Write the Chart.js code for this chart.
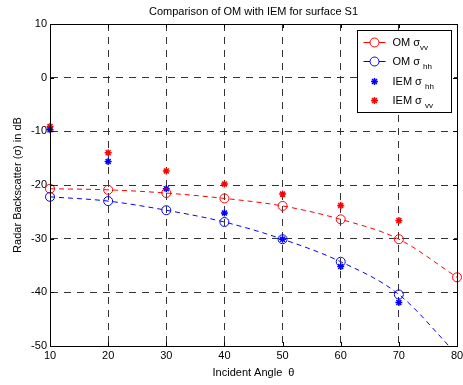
<!DOCTYPE html>
<html><head><meta charset="utf-8">
<script src="https://cdn.jsdelivr.net/npm/chart.js@4/dist/chart.umd.min.js"></script>
<style>html,body{margin:0;padding:0;background:#fff}</style>
</head><body>
<canvas id="c" width="463" height="385" style="display:block"></canvas>
<script>
const angles = [10, 20, 30, 40, 50, 60, 70, 80];
const omVV = [-20.7, -20.9, -21.5, -22.5, -23.9, -26.4, -30.1, -37.2];
const omHH = [-22.2, -23.0, -24.7, -26.9, -30.1, -34.3, -40.4, -51.6];
const iemHH = [-9.7, -15.6, -20.7, -25.2, -30.1, -35.2, -41.9, null];
const iemVV = [-9.1, -14.0, -17.4, -19.8, -21.7, -23.8, -26.6, null];
const xTicks = [10, 20, 30, 40, 50, 60, 70, 80];
const yTicks = [10, 0, -10, -20, -30, -40, -50];
const titleText = 'Comparison of OM with IEM for surface S1';
const xTitle = 'Incident Angle  \u03B8';
const yTitle = 'Radar Backscatter (\u03C3) in dB';
const legendItems = [
  {main: 'OM \u03C3', sub: 'vv', color: '#ff0000', style: 'circle', line: true},
  {main: 'OM \u03C3 ', sub: 'hh', color: '#0000ff', style: 'circle', line: true},
  {main: 'IEM \u03C3 ', sub: 'hh', color: '#0000ff', style: 'star', line: false},
  {main: 'IEM \u03C3 ', sub: 'vv', color: '#ff0000', style: 'star', line: false}
];

const FONT = "'Liberation Sans', Arial, sans-serif";
const pts = arr => angles.map((a, i) => ({x: a, y: arr[i]}));

const decor = {
  id: 'decor',
  afterDraw(chart) {
    const ctx = chart.ctx, ca = chart.chartArea;
    const xs = chart.scales.x, ys = chart.scales.y;
    ctx.save();
    // frame
    ctx.strokeStyle = '#000'; ctx.lineWidth = 1; ctx.setLineDash([]);
    ctx.strokeRect(Math.round(ca.left) + 0.5, Math.round(ca.top) + 0.5, Math.round(ca.right - ca.left), Math.round(ca.bottom - ca.top));
    // inward ticks
    ctx.beginPath();
    xTicks.forEach(v => {
      const px = Math.round(xs.getPixelForValue(v)) + 0.5;
      ctx.moveTo(px, ca.bottom); ctx.lineTo(px, ca.bottom - 4);
      ctx.moveTo(px, ca.top); ctx.lineTo(px, ca.top + 4);
    });
    yTicks.forEach(v => {
      const py = Math.round(ys.getPixelForValue(v)) + 0.5;
      ctx.moveTo(ca.left, py); ctx.lineTo(ca.left + 4, py);
      ctx.moveTo(ca.right, py); ctx.lineTo(ca.right - 4, py);
    });
    ctx.stroke();
    // title
    ctx.fillStyle = '#000';
    ctx.font = '11px ' + FONT;
    ctx.textAlign = 'center'; ctx.textBaseline = 'middle';
    ctx.fillText(titleText, (ca.left + ca.right) / 2, 12);
    // legend
    const bw = 94, bh = 82;
    const bx = Math.round(ca.right - 6 - bw) + 0.5, by = Math.round(ca.top + 6) + 0.5;
    ctx.fillStyle = '#fff';
    ctx.fillRect(bx, by, bw, bh);
    ctx.strokeStyle = '#000';
    ctx.strokeRect(bx, by, bw, bh);
    const rows = [12, 31, 51, 70];
    legendItems.forEach((it, i) => {
      const y = by + rows[i];
      if (it.line) {
        ctx.strokeStyle = it.color; ctx.lineWidth = 1;
        ctx.beginPath(); ctx.moveTo(bx + 6, y); ctx.lineTo(bx + 28, y); ctx.stroke();
      }
      ctx.strokeStyle = it.color; ctx.fillStyle = it.style === 'circle' ? '#fff' : it.color;
      ctx.lineWidth = it.style === 'circle' ? 1 : 1.5;
      Chart.helpers.drawPoint(ctx, {pointStyle: it.style, radius: it.style === 'circle' ? 4.5 : 3.5, rotation: 0, borderWidth: ctx.lineWidth}, bx + 17, y);
      ctx.fillStyle = '#000';
      ctx.textAlign = 'left'; ctx.textBaseline = 'middle';
      ctx.font = '11px ' + FONT;
      ctx.fillText(it.main, bx + 35, y);
      const w = ctx.measureText(it.main).width;
      ctx.font = '8px ' + FONT;
      ctx.fillText(it.sub, bx + 35 + w, y + 5);
    });
    ctx.restore();
  }
};

new Chart(document.getElementById('c'), {
  type: 'line',
  data: {
    datasets: [
      {label: 'OM vv', data: pts(omVV), borderColor: '#ff0000', borderWidth: 1, borderDash: [5, 4],
       pointStyle: 'circle', pointRadius: 4.5, pointBorderColor: '#ff0000', pointBackgroundColor: 'rgba(0,0,0,0)', pointBorderWidth: 1,
       cubicInterpolationMode: 'monotone', fill: false, clip: {left: 6, right: 6, top: 6, bottom: 0}},
      {label: 'OM hh', data: pts(omHH), borderColor: '#0000ff', borderWidth: 1, borderDash: [5, 4],
       pointStyle: 'circle', pointRadius: 4.5, pointBorderColor: '#0000ff', pointBackgroundColor: 'rgba(0,0,0,0)', pointBorderWidth: 1,
       cubicInterpolationMode: 'monotone', fill: false, clip: {left: 6, right: 6, top: 6, bottom: 0}},
      {label: 'IEM hh', data: pts(iemHH), showLine: false, borderColor: '#0000ff',
       pointStyle: 'star', pointRadius: 3.5, pointBorderColor: '#0000ff', pointBackgroundColor: '#0000ff', pointBorderWidth: 1.5,
       clip: {left: 6, right: 6, top: 6, bottom: 6}},
      {label: 'IEM vv', data: pts(iemVV), showLine: false, borderColor: '#ff0000',
       pointStyle: 'star', pointRadius: 3.5, pointBorderColor: '#ff0000', pointBackgroundColor: '#ff0000', pointBorderWidth: 1.5,
       clip: {left: 6, right: 6, top: 6, bottom: 6}}
    ]
  },
  options: {
    responsive: false,
    animation: false,
    devicePixelRatio: 1,
    layout: {padding: {left: 0, right: 5, top: 24, bottom: 0}},
    plugins: {legend: {display: false}, title: {display: false}, tooltip: {enabled: false}},
    elements: {point: {hoverRadius: 4.5}},
    scales: {
      x: {
        type: 'linear', min: 10, max: 80,
        afterBuildTicks: s => { s.ticks = xTicks.map(v => ({value: v})); },
        afterFit: s => { s.height = 39; s.paddingLeft = 0; s.paddingRight = 0; },
        ticks: {color: '#000', font: {family: FONT, size: 11}, padding: 3, maxRotation: 0, autoSkip: false},
        grid: {color: '#333', lineWidth: 1, drawTicks: false},
        border: {display: true, color: '#000', width: 1, dash: [7, 6]},
        title: {display: true, text: xTitle, color: '#000', font: {family: FONT, size: 11}, padding: {top: 0, bottom: 5}}
      },
      y: {
        type: 'linear', min: -50, max: 10,
        afterBuildTicks: s => { s.ticks = yTicks.map(v => ({value: v})); },
        afterFit: s => { s.width = 50; s.paddingTop = 0; s.paddingBottom = 0; },
        ticks: {color: '#000', font: {family: FONT, size: 11}, padding: 3, autoSkip: false},
        grid: {color: '#333', lineWidth: 1, drawTicks: false},
        border: {display: true, color: '#000', width: 1, dash: [7, 6]},
        title: {display: true, text: yTitle, color: '#000', font: {family: FONT, size: 11}, padding: {top: 11, bottom: 0}}
      }
    }
  },
  plugins: [decor]
});
</script>
</body></html>
